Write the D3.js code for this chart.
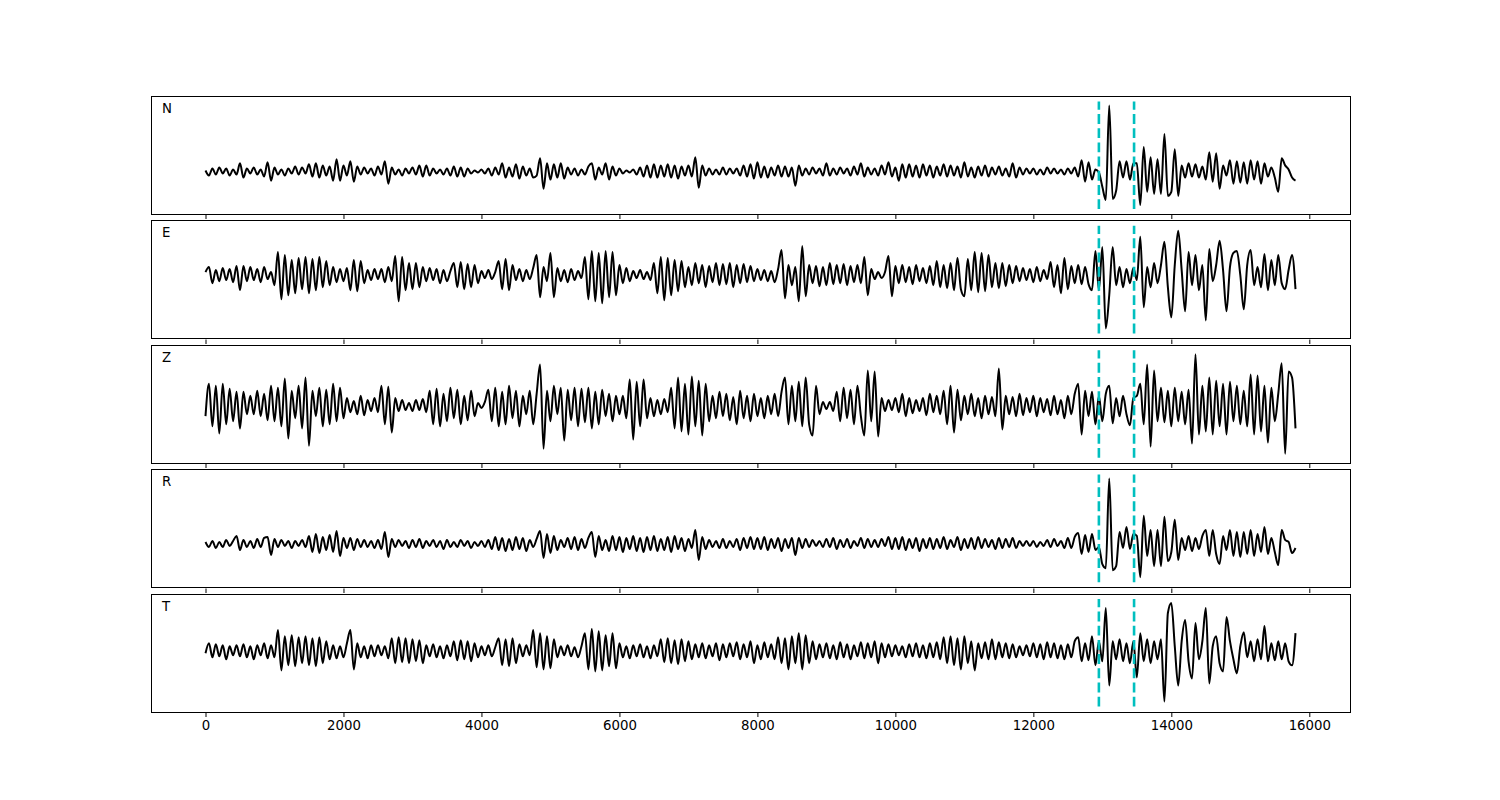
<!DOCTYPE html>
<html><head><meta charset="utf-8">
<script src="https://cdn.jsdelivr.net/npm/d3@7"></script>
<style>body{margin:0;background:#fff}svg{display:block}</style>
</head><body><svg id="c" width="1500" height="800"></svg>
<script>
// ---------- data ----------
const sampleStep = 50;            // sample spacing (x units)
const channels = ["N", "E", "Z", "R", "T"];
const picks = [12950, 13460];     // dashed cyan markers
const xTicks = [0, 2000, 4000, 6000, 8000, 10000, 12000, 14000, 16000];
const xDomain = [-790, 16590];
// vertical extent of the pick markers per channel (amplitude units)
const yLimits = [[-37, 69], [-58, 49], [-51, 55], [-38, 69], [-55, 52]];

const traceN = [
1,-4,3,-3,4,-2,3,-4,2,-3, 8,-6,3,-2,4,-3,2,-5,9,-9,
4,-3,2,-4,3,-2,5,-3,4,-2, 7,-5,8,-6,6,-4,5,-9,12,-9,
6,-4,10,-10,5,-3,4,-2,3,-4, 5,-3,10,-12,4,-3,2,-4,3,-2,
4,-3,6,-5,6,-4,3,-2,2,-3, 3,-4,5,-5,4,-5,3,-2,1,-1,
2,-2,3,-4,4,-3,8,-6,4,-5, 7,-7,5,-4,3,-6,-4,13,-17,8,
-8,7,-6,8,-7,4,-3,3,-4,2, -3,5,8,-8,4,-3,8,-8,5,-4,
3,-2,1,-1,2,-3,4,-5,6,-6, 7,-6,6,-5,7,-6,6,-7,5,-4,
6,-5,14,-16,6,-4,3,-3,2,-3, 4,-3,3,-2,3,-4,6,-5,7,-7,
9,-6,5,-6,4,-4,6,-5,5,-5, 4,-14,6,-4,3,-3,4,-2,3,-4,
8,-4,3,-3,4,-2,3,-4,5,-3, 8,-5,4,-3,3,-4,6,-3,9,-5,
4,-9,7,-6,7,-5,6,-6,7,-4, 6,-6,5,-4,7,-5,6,-4,5,-6,
9,-5,4,-6,5,-4,6,-5,4,-3, 5,-4,3,-5,8,-6,4,-3,3,-2,
3,-3,2,-3,4,-2,3,-2,2,-3, 3,-2,4,-5,11,-10,9,-8,2,-1,
-15,-28,65,-27,-19,10,-6,10,-8,8, 8,-33,24,-20,14,-22,12,-22,37,-24,
-20,22,-24,6,-6,8,-5,7,-6,5, -8,19,-10,18,-17,6,-4,11,-12,10,
-11,9,-12,11,-8,10,-12,8,-5,4, -6,-20,13,6,2,-6,-9
];
const traceE = [
3,8,-8,5,-6,7,-5,6,-7,9, -15,9,-6,8,-5,6,-7,8,-4,3,
-10,23,-24,20,-20,15,-18,17,-14,18, -18,16,-15,18,-12,14,-10,8,-7,6,
-6,7,-15,15,-16,14,-8,5,-5,6, -4,6,-7,8,-6,19,-26,18,-15,12,
-14,12,-12,8,-6,7,-5,6,-8,5, -6,4,12,-12,13,-14,11,-12,10,-8,
4,-3,5,-4,3,14,-14,16,-15,10, -5,6,-6,5,-4,7,20,-22,8,-6,
22,-22,7,-6,5,-7,6,-5,4,-3, 18,-24,24,-26,22,-28,24,-22,23,-20,
10,-8,7,-6,4,-3,5,-4,3,-5, 12,-18,18,-25,17,-20,15,-16,14,-12,
8,-10,12,-8,10,-12,9,-7,12,-10, 11,-9,12,-12,10,-8,11,-7,9,-6,
6,-5,5,-6,4,-7,6,25,-23,10, -10,8,-26,29,-21,10,-8,9,-11,8,
-10,12,-9,10,-8,11,-10,9,-7,10, -8,18,-20,6,-4,3,-3,3,19,-21,
9,-8,10,-7,8,-9,10,-6,7,-8, 9,-10,14,-12,10,-13,12,-15,17,-14,
-21,16,-15,23,-17,22,-16,20,-12,12, -13,12,-11,10,-8,9,-6,7,-5,6,
-7,8,-6,5,-4,13,-12,10,-18,17, -14,9,-8,10,-9,8,-9,-15,24,-15,
28,-53,-20,28,-10,8,-12,6,-8,7, -5,38,-32,8,-12,12,-8,10,33,-12,
-42,10,44,5,-36,23,-10,20,-15,10, -45,26,-6,10,34,5,-36,8,22,24,
0,-34,10,25,-10,8,-12,21,-15,15, -10,20,-8,-14,5,20,-14
];
const traceZ = [
-10,22,-20,20,-27,22,-18,17,-15,14, -22,14,-8,10,-8,15,-10,12,-14,20,
-15,18,-20,27,-32,15,-12,20,-22,28, -39,15,-10,18,-20,16,-18,22,-15,18,
-12,8,-6,5,-8,10,-9,6,-5,8, -6,20,-18,19,-26,8,-5,6,-4,3,
-5,6,-4,7,-6,15,-18,17,-20,12, -15,18,-12,16,-18,10,-14,15,-10,3,
-2,4,16,-15,18,-20,14,-18,20,-12, 15,-20,10,-8,15,-18,12,41,-42,15,
-15,20,-8,18,-34,16,-14,18,-20,17, -16,18,-22,14,-18,16,-10,12,-15,10,
-8,10,-12,26,-33,24,-20,26,-12,8, -10,6,-8,7,-6,18,-22,28,-25,22,
-28,29,-20,25,-29,22,-15,10,-12,14, -10,12,-14,9,-18,15,-12,10,-15,12,
-10,8,-12,10,-8,12,-10,14,28,-18, 20,-15,24,-20,28,-18,-29,20,-8,4,
-3,4,-5,14,-15,18,-12,16,-18,20, -10,-29,35,-15,34,-30,8,-5,6,-4,
8,-6,12,-10,8,-7,6,-5,8,-9, 12,-6,10,-8,15,-18,20,-26,16,-14,
10,-8,12,-10,8,-12,10,-8,9,-10, 37,-23,10,-8,9,-10,12,-9,8,-6,
10,-10,8,-6,7,-9,10,-8,6,-12, 10,-8,12,22,-28,15,-10,14,-18,10,
-15,12,20,-17,8,-10,10,-8,-19,8, 10,22,-18,41,-40,35,-15,18,-16,15,
-20,18,-15,14,-18,16,-37,51,-28,20, -25,28,-28,25,-20,22,-28,24,-15,20,
-18,15,-20,31,-28,30,-25,20,-36,18, -15,12,42,-47,34,28,-22
];
const traceR = [
2,-3,3,-4,2,-3,4,-2,3,8, -6,4,-3,3,-4,5,-3,6,7,-11,
5,-3,4,-2,3,-4,3,-2,4,-3, 8,-8,10,-9,7,-6,9,-8,13,-12,
6,-4,6,-6,5,-3,4,-3,3,-4, 4,-5,12,-13,5,-3,4,-2,3,-4,
4,-3,5,-4,3,-2,4,-3,3,-5, 4,-3,2,-3,4,-2,3,-4,2,-2,
3,-3,4,-5,7,-6,6,-7,5,-6, 7,-5,6,-7,4,-3,5,13,-14,10,
-9,8,-6,4,-3,6,-5,7,-6,5, -4,6,12,-13,8,-6,4,-7,8,-6,
7,-8,6,-5,8,-7,6,-8,7,-6, 8,-7,5,-6,7,-8,8,-5,6,-7,
5,-4,14,-16,7,-5,4,-3,3,-4, 5,-4,3,-3,5,-6,6,-4,7,-5,
6,-5,7,-6,5,-4,6,-7,5,-4, 6,-11,6,-4,5,-3,4,-2,3,-3,
5,-3,6,-5,4,-3,5,-4,3,-2, 6,-4,5,-3,4,-3,5,-2,7,-5,
6,-5,7,-6,5,-4,6,-7,5,-4, 6,-5,5,-4,7,-5,4,-3,7,-6,
5,-4,6,-5,7,-4,5,-3,4,-5, 6,-4,5,-3,6,-4,3,-2,3,-2,
3,-3,2,-2,4,-3,5,-2,3,-4, 6,-4,7,11,-10,9,-8,10,-6,-3,
-20,-24,65,-26,-22,12,-4,17,-5,10, 8,-33,28,-12,14,-22,14,-22,27,-17,
-8,24,-16,6,-6,8,-7,6,-5,8, 14,-12,14,-10,-20,8,-6,14,-12,12,
-13,12,-10,14,-12,10,-8,17,-10,6, -8,-21,14,4,2,-9,-4
];
const traceT = [
-2,8,-6,7,-5,6,-8,5,-4,6, -5,7,-6,5,-8,6,-4,8,-7,6,
-6,21,-19,15,-14,16,-15,14,-12,15, -14,13,-15,14,-12,10,-8,6,-7,5,
-6,8,21,-18,8,-6,5,-7,6,-5, 6,-4,5,-7,13,-12,14,-11,13,-12,
12,-10,11,-12,6,-5,7,-6,5,-7, 6,-5,10,-9,11,-8,10,-10,8,-6,
5,-4,6,-5,4,13,-14,12,-15,13, -12,7,-5,6,-4,21,-16,18,-18,15,
-17,12,-6,5,-4,6,-5,4,-6,5, 18,-18,22,-20,20,-19,16,-15,18,-17,
8,-6,5,-7,6,-5,7,-6,5,-7, 6,-5,12,-11,13,-12,11,-13,12,-10,
10,-8,7,-6,8,-7,6,-5,8,-9, 7,-6,8,-5,9,-8,7,-6,10,-12,
6,-8,9,-6,7,-8,14,-12,13,-18, 15,-12,18,-18,16,-12,10,-8,7,-6,
8,-7,6,-8,9,-6,7,-8,6,-5, 9,-7,8,-6,10,-12,8,-6,7,-5,
6,-4,5,-6,7,-5,8,-6,6,-7, 8,-6,9,-8,14,-12,15,-14,13,-18,
15,-12,10,-19,8,-7,9,-8,12,-8, 9,-6,8,-7,7,-6,5,-4,6,-5,
8,-6,7,-8,9,-6,8,-7,6,-8, 7,-6,10,14,-10,8,-9,15,-14,10,
-10,43,-34,10,-8,12,-10,8,-12,10, -26,18,-10,12,-12,10,-8,12,-50,38,
48,5,-34,10,31,-10,-27,28,-8,10, 43,-32,5,15,-12,-20,34,10,-8,-22,
5,19,-6,10,-10,12,-8,25,-10,8, -9,10,-8,8,-10,-14,18
];
const traces = [traceN, traceE, traceZ, traceR, traceT];

// ---------- layout ----------
const plotLeft = 151, plotRight = 1350, plotTop = 96, plotBottom = 712;
const hspace = 0.05;
const nPanels = channels.length;
const ph = (plotBottom - plotTop) / (nPanels + (nPanels - 1) * hspace);
const gap = ph * hspace;

const svg = d3.select("#c");
const x = d3.scaleLinear().domain(xDomain).range([plotLeft, plotRight]);
const font = "'DejaVu Sans', sans-serif";

channels.forEach((ch, k) => {
  const y0 = plotTop + k * (ph + gap);
  const [lo, hi] = yLimits[k];
  const pad = (hi - lo) * 0.05;
  const y = d3.scaleLinear().domain([lo - pad, hi + pad]).range([y0 + ph, y0]);
  const g = svg.append("g");

  // waveform
  const line = d3.line()
    .x((d, i) => x(i * sampleStep))
    .y(d => y(d))
    .curve(d3.curveMonotoneX);
  g.append("path").datum(traces[k])
    .attr("d", line)
    .attr("fill", "none").attr("stroke", "#000")
    .attr("stroke-width", 2).attr("stroke-linejoin", "round");

  // picks
  g.selectAll("line.pick").data(picks).enter().append("line")
    .attr("class", "pick")
    .attr("x1", d => x(d)).attr("x2", d => x(d))
    .attr("y1", y(lo)).attr("y2", y(hi))
    .attr("stroke", "#00bfbf").attr("stroke-width", 2.6)
    .attr("stroke-dasharray", "9.9,4.3");

  // frame
  g.append("rect")
    .attr("x", Math.round(plotLeft) + 0.5).attr("y", Math.round(y0) + 0.5)
    .attr("width", Math.round(plotRight - plotLeft)).attr("height", Math.round(ph))
    .attr("fill", "none").attr("stroke", "#000").attr("stroke-width", 1);

  // x axis
  const ax = d3.axisBottom(x).tickValues(xTicks).tickSize(4.5).tickPadding(4)
    .tickFormat(d3.format("d"));
  if (k < nPanels - 1) ax.tickFormat("");
  const axg = g.append("g")
    .attr("transform", `translate(0,${Math.round(y0 + ph) + 0.5})`)
    .call(ax);
  axg.select(".domain").remove();
  axg.selectAll(".tick line").attr("stroke", "#000").attr("stroke-width", 1);
  axg.selectAll(".tick text").attr("fill", "#000")
    .style("font-family", font).style("font-size", "13.3px");

  // channel label
  g.append("text")
    .attr("x", plotLeft + 11).attr("y", y0 + 17)
    .style("font-family", font).style("font-size", "13.3px")
    .attr("fill", "#000").text(ch);
});
</script>
</body></html>
